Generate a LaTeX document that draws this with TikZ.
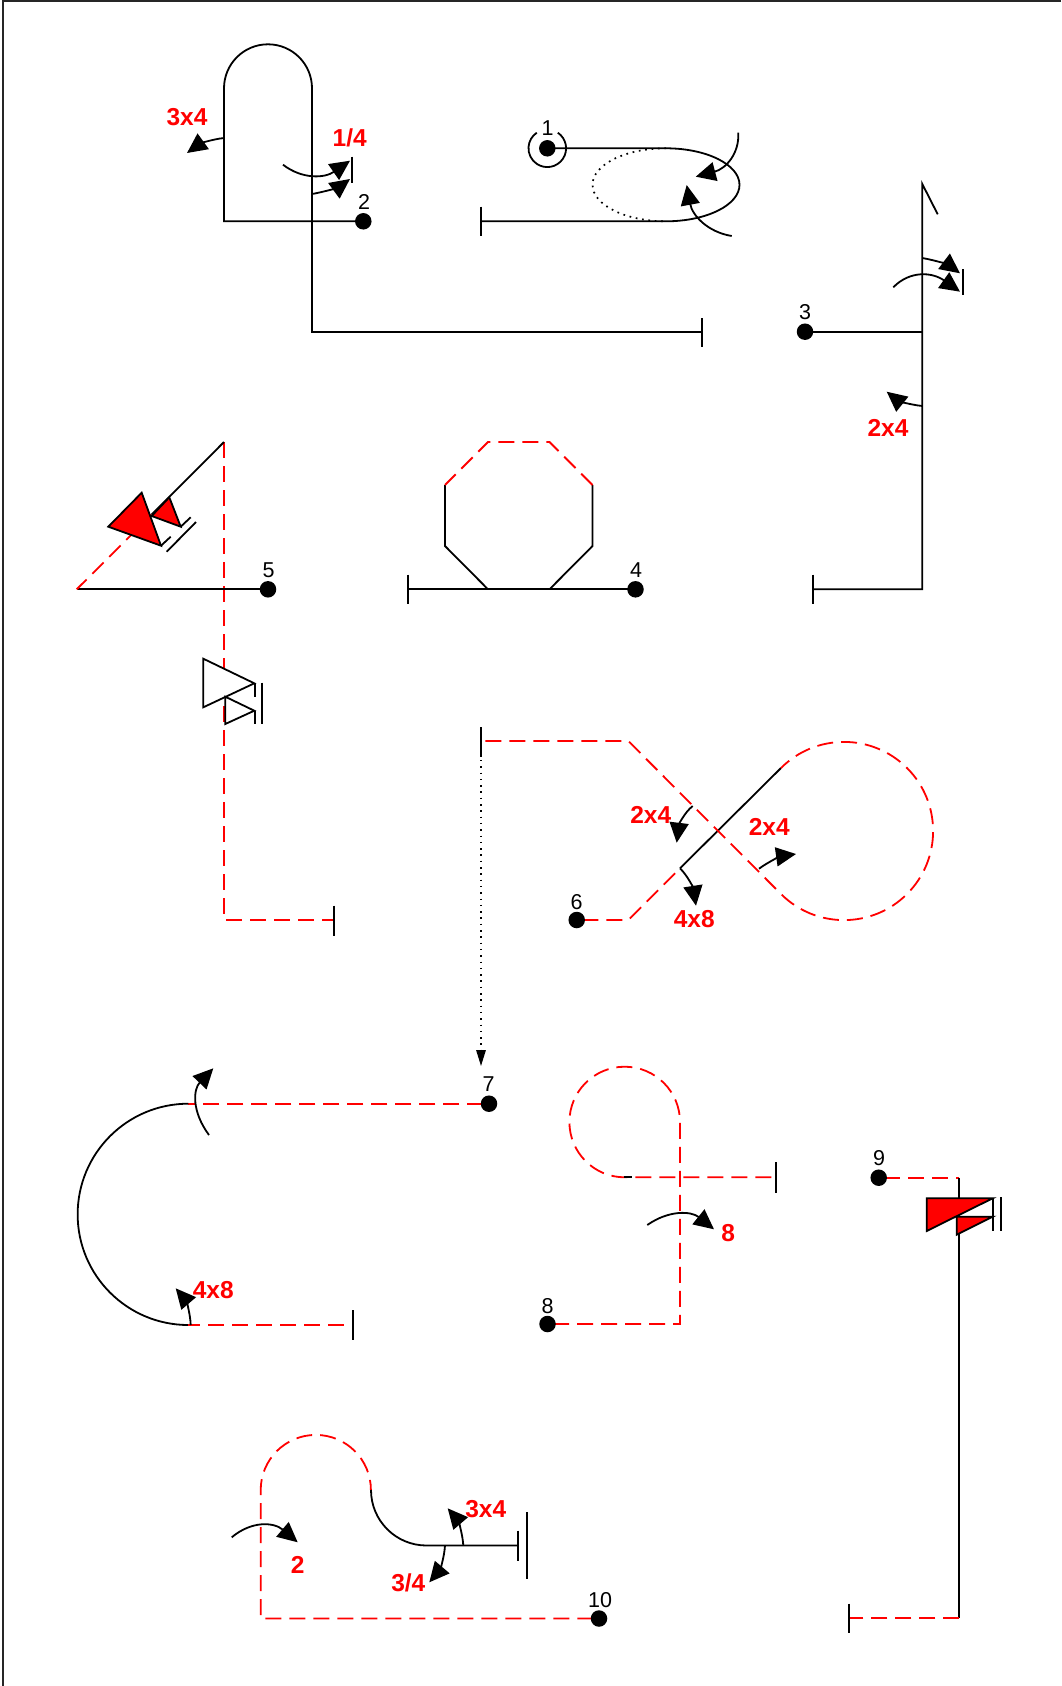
\documentclass[tikz,border=0pt]{standalone}
\usepackage{fontspec}
\setmainfont{Liberation Sans}
\usetikzlibrary{arrows.meta,calc}
\definecolor{rd}{RGB}{255,0,0}
\pgfdeclarelayer{dotlayer}
\pgfsetlayers{main,dotlayer}
\newcommand{\qarr}[3]{\draw[bendarr] (#1) .. controls ($(#1)!0.6667!(#2)$) and ($(#3)!0.6667!(#2)$) .. (#3);}
\tikzset{
  ln/.style={line width=1.8pt,black,line join=miter},
  rdash/.style={line width=1.8pt,rd,dash pattern=on 16pt off 8pt},
  rdashn/.style={line width=1.8pt,rd,dash pattern=on 16pt off 8pt,dash phase=18.3pt},
  rdots/.style={line width=1.7pt,black,dash pattern=on 1.7pt off 4.7pt},
  bendarr/.style={line width=1.8pt,black,-{Triangle[length=20pt,width=19pt]}},
  dotnode/.style={circle,fill=black,draw=none,inner sep=0pt,minimum size=16.5pt},
  numlab/.style={inner sep=0pt,font=\fontsize{21.5}{22}\selectfont},
  redlab/.style={inner sep=0pt,text=rd,font=\fontsize{24.5}{25}\selectfont\bfseries},
  redtri/.style={line width=1.8pt,fill=rd,draw=black,line join=miter},
  whitetri/.style={line width=1.8pt,fill=white,draw=black,line join=miter}
}
\begin{document}
\begin{tikzpicture}[x=1pt,y=-1pt]
\useasboundingbox (0,0) rectangle (1061,1686);
\fill[white] (0,0) rectangle (1061,1686);
% frame
\coordinate (fa) at (1061,0.8);
\coordinate (fb) at (3,0.8);
\coordinate (fc) at (3,1686);
\draw[line width=2pt,black!85] (fa) -- (fb) -- (fc);

% ---- dots (on top of the lines)
\begin{pgfonlayer}{dotlayer}
\node[dotnode] (n1) at (547.3,148.3) {};
\node[dotnode] (n2) at (363.3,221.3) {};
\node[dotnode] (n3) at (805,331.7) {};
\node[dotnode] (n4) at (635.5,589.3) {};
\node[dotnode] (n5) at (268,589.3) {};
\node[dotnode] (n6) at (576.7,920) {};
\node[dotnode] (n7) at (489,1103.7) {};
\node[dotnode] (n8) at (547.5,1324) {};
\node[dotnode] (n9) at (878.7,1177.7) {};
\node[dotnode] (n10) at (599,1618.5) {};
\end{pgfonlayer}
\node[numlab] (l1) at (547.7,128.3) {1};
\node[numlab] (l2) at (364,201.7) {2};
\node[numlab] (l3) at (805,312.5) {3};
\node[numlab] (l4) at (636,570) {4};
\node[numlab] (l5) at (268.5,570) {5};
\node[numlab] (l6) at (576.7,901.7) {6};
\node[numlab] (l7) at (488.5,1084.5) {7};
\node[numlab] (l8) at (547.5,1306) {8};
\node[numlab] (l9) at (879,1158.5) {9};
\node[numlab] (l10) at (600,1600) {10};

% ---- figure 2 (loop top)
\draw[ln] (n2.center) -- (224,221.3) -- (224,88.3) arc[start angle=180,end angle=360,radius=44] -- (312,332) -- (702,332);
\draw[ln] (702,318) -- (702,346.5);
\draw[ln] (352,156.7) -- (352,183);
\qarr{224,138}{205,140}{187,153}
\qarr{283,164.7}{312,187}{350,160.7}
\qarr{312,194}{335,190}{350,179}
\node[redlab] (t1) at (187,116.7) {3x4};
\node[redlab] (t2) at (349.7,138.3) {1/4};

% ---- figure 1 (ellipse)
\draw[ln] (n1.center) ++(10.5,-15.6) arc[start angle=-56,end angle=236,radius=18.8];
\draw[ln] (n1.center) -- (666,148.3) arc[start angle=-90,end angle=90,x radius=73.5,y radius=36.5] -- (481,221.3);
\draw[rdots] (666,148.3) arc[start angle=-90,end angle=-270,x radius=73.5,y radius=36.5];
\draw[ln] (481,206.7) -- (481,236);
\qarr{738.3,132.7}{740,165}{695.7,176.7}
\qarr{731.7,236}{695,230}{686.7,185}

% ---- figure 3
\draw[ln] (n3.center) -- (922.3,331.7);
\draw[ln] (937.7,214.3) -- (922.3,184) -- (922.3,589.3) -- (812.7,589.3);
\draw[ln] (812.7,574.5) -- (812.7,604);
\draw[ln] (963,269) -- (963,295);
\qarr{922.3,258}{945,262}{960,273.3}
\qarr{893.3,287.3}{918,262}{960,291.7}
\qarr{922.3,406}{902,404}{886.7,391.7}
\node[redlab] (t3) at (888,428) {2x4};

% ---- figure 4 (octagon)
\draw[ln] (n4.center) -- (408,589.3);
\draw[ln] (408,574.5) -- (408,604);
\draw[ln] (445,485) -- (445,546) -- (488,589.3);
\draw[ln] (592.5,485) -- (592.5,546) -- (549.5,589.3);
\draw[rdash] (592.5,485) -- (549.5,442) -- (488,442) -- (445,485);

% ---- figure 5
\draw[rdash] (224,442) -- (224,920) -- (334,920);
\draw[ln] (334,905.5) -- (334,935.5);
\draw[ln] (n5.center) -- (76.7,589.3);
\draw[rdash,dash phase=2pt] (76.7,589.3) -- (151.7,514.5);
\draw[ln] (224,442) -- (151.7,514.5);
\draw[redtri] (141.7,492.7) -- (108.3,526.7) -- (161,545.7) -- cycle;
\draw[redtri] (169.3,497.3) -- (151.7,516) -- (180.7,526.7) -- cycle;
\draw[ln] (161,545.7) -- (170.7,536.7);
\draw[ln] (180.7,526.7) -- (190.7,517.3);
\draw[ln] (166.7,551.7) -- (196,522);
\draw[whitetri] (203.3,658.7) -- (203.3,707.3) -- (254.3,683.3) -- cycle;
\draw[whitetri,fill=none] (225.3,696.7) -- (225.3,724) -- (254.3,710.7) -- cycle;
\draw[ln] (255,683.3) -- (255,697);
\draw[ln] (255,710.7) -- (255,724);
\draw[ln] (262,682.7) -- (262,724);

% ---- figure 6
\draw[rdashn] (n6.center) -- (628.3,920) -- (680,868.3);
\draw[ln] (680,868.3) -- (781,768);
\draw[rdash,dash phase=5pt] (781,768) arc[start angle=225,end angle=495,radius=89.1] -- (628.3,741) -- (481,741);
\draw[ln] (481,727) -- (481,757);
\draw[line width=1.5pt,black,dash pattern=on 1.5pt off 4.8pt,-{Triangle[length=16pt,width=9.5pt]}] (481,741) -- (481,1066);
\qarr{692.7,806}{680,816}{676.7,842.7}
\qarr{759,868.7}{775,857}{796,854}
\qarr{680,868.3}{692,880}{696,905.7}
\node[redlab] (t4) at (650.7,815) {2x4};
\node[redlab] (t5) at (769.3,827.3) {2x4};
\node[redlab] (t6) at (694.3,919.3) {4x8};

% ---- figure 7
\draw[rdashn] (n7.center) -- (188.3,1103.7);
\draw[ln] (188.3,1103.7) arc[start angle=-90,end angle=-270,radius=110.65];
\draw[rdash,dash phase=4pt] (188.3,1325) -- (353,1325);
\draw[ln] (353,1310) -- (353,1340);
\qarr{209,1135}{183,1100}{213.3,1068.3}
\qarr{190.7,1325}{190,1305}{175.7,1288.3}
\node[redlab] (t7) at (213.3,1290) {4x8};

% ---- figure 8
\draw[rdashn] (n8.center) -- (680,1324) -- (680,1122) arc[start angle=0,end angle=-270,radius=55.3] -- (775.7,1177.3);
\draw[ln] (624,1177.3) -- (632,1177.3);
\draw[ln] (775.7,1162.3) -- (775.7,1192.7);
\qarr{647.3,1225}{680,1202}{714,1229.3}
\node[redlab] (t8) at (728.3,1233.3) {8};

% ---- figure 9
\draw[rdashn] (n9.center) -- (959.3,1177.7);
\draw[ln] (959.3,1177.7) -- (959.3,1618);
\draw[rdash] (959.3,1618) -- (849,1618);
\draw[ln] (849,1603.5) -- (849,1633);
\draw[redtri] (926.7,1198.3) -- (992.7,1198.3) -- (926.7,1231) -- cycle;
\draw[redtri] (956.7,1216.7) -- (992.7,1216.7) -- (956.7,1234.7) -- cycle;
\draw[ln] (992.7,1198.3) -- (992.7,1231);
\draw[ln] (1000.7,1197) -- (1000.7,1231);

% ---- figure 10
\draw[rdashn] (n10.center) -- (260.7,1618.5) -- (260.7,1490) arc[start angle=180,end angle=360,radius=55.1];
\draw[ln] (371,1490) arc[start angle=180,end angle=90,radius=55.5] -- (517.7,1545.5);
\draw[ln] (517.7,1530.7) -- (517.7,1560.7);
\draw[ln] (527.3,1512) -- (527.3,1579);
\qarr{231.7,1537.3}{262,1512}{297.7,1542.3}
\qarr{463.3,1545.3}{462,1525}{447.7,1508.3}
\qarr{445,1545.3}{444,1565}{429.3,1582.3}
\node[redlab] (t9) at (297.7,1565) {2};
\node[redlab] (t10) at (485.7,1509.3) {3x4};
\node[redlab] (t11) at (408.3,1583.3) {3/4};
\end{tikzpicture}
\end{document}
